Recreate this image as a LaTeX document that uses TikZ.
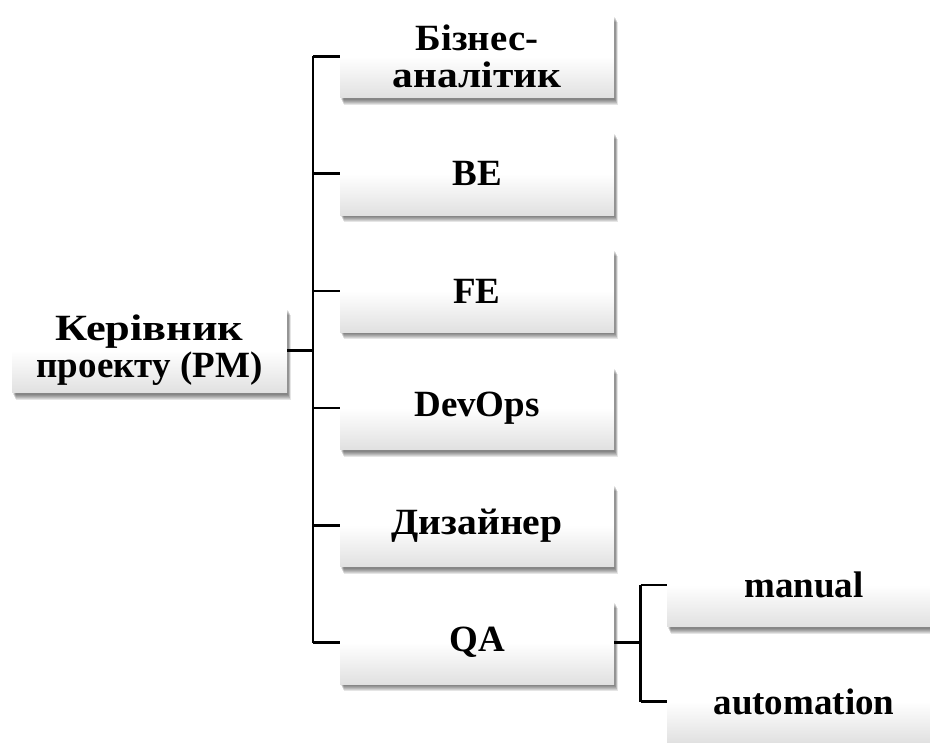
\documentclass[tikz,border=0pt]{standalone}
\usepackage{fontspec}
\usepackage{graphicx}
\setmainfont{Liberation Serif}
\usetikzlibrary{shadows}
\begin{document}
\begin{tikzpicture}[x=1pt,y=-1pt,
  sh/.style={drop shadow={shadow xshift=#1, shadow yshift=-#1*2, opacity=0.1, fill=black}},
  boxstyle/.style={minimum width=274pt, minimum height=83pt, inner sep=0pt,
    align=center, font=\bfseries\fontsize{37}{37}\selectfont,
    top color=white, bottom color=black!12, middle color=white,
    sh=3.5pt, sh=3pt, sh=2.5pt, sh=2pt, sh=1.5pt, sh=1pt},
  link/.style={line width=2.6pt, black}]
\useasboundingbox (0,0) rectangle (930,743);
\clip (0,0) rectangle (930,743);
\node[boxstyle, minimum width=275pt, minimum height=85pt] (pm) at (149.5,350.5) {\scalebox{1.2}[1]{Керівник}\\проекту (PM)};
\node[boxstyle] (ba) at (477,56.5) {\scalebox{1.05}[1]{Бізнес-}\\\scalebox{1.12}[1]{аналітик}};
\node[boxstyle] (be) at (477,173.7) {BE};
\node[boxstyle] (fe) at (477,290.9) {FE};
\node[boxstyle] (dev) at (477,408.1) {DevOps};
\node[boxstyle] (des) at (477,525.3) {\scalebox{1.07}[1]{Дизайнер}};
\node[boxstyle] (qa) at (477,642.5) {QA};
\node[boxstyle] (man) at (804,585) {manual};
\node[boxstyle] (aut) at (804,701.5) {automation};
\coordinate (j1) at (313,350.5);
\coordinate (j2) at (640.5,642.5);
\draw[link] (pm.east) -- (j1);
\draw[link] (j1 |- ba.west) -- (j1 |- qa.west);
\foreach \c in {ba,be,fe,dev,des,qa} \draw[link] (j1 |- \c.west) -- (\c.west);
\draw[link] (qa.east) -- (j2);
\draw[link] (j2 |- man.west) -- (j2 |- aut.west);
\foreach \c in {man,aut} \draw[link] (j2 |- \c.west) -- (\c.west);
\end{tikzpicture}
\end{document}
